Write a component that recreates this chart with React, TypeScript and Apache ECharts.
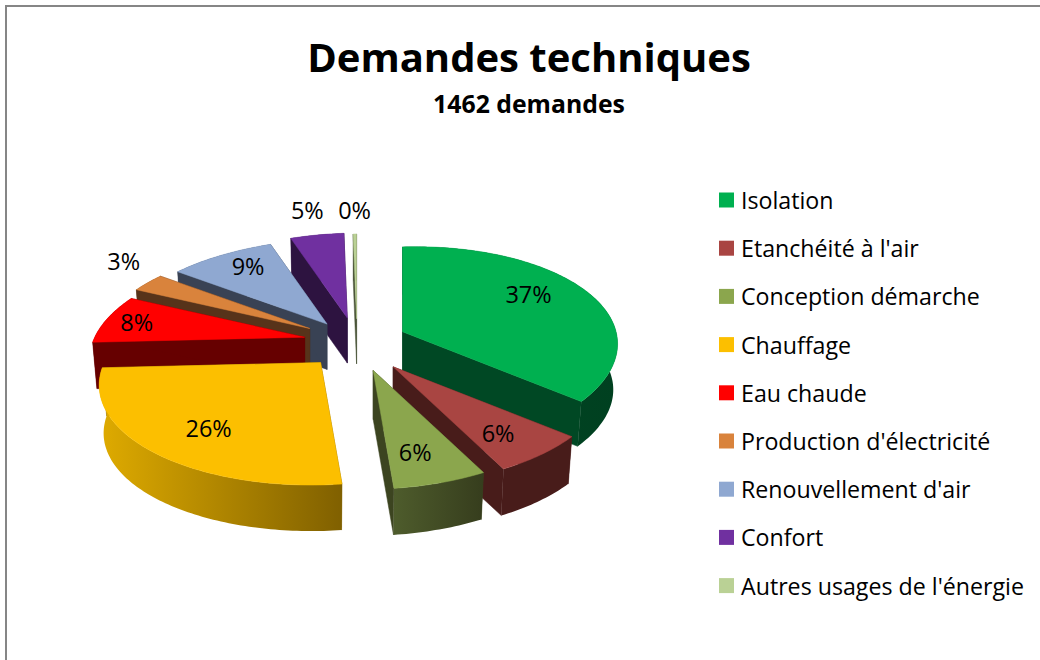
import React, { useEffect, useRef } from "react";
import * as echarts from "echarts";

const categories = [
  "Isolation",
  "Etanchéité à l'air",
  "Conception démarche",
  "Chauffage",
  "Eau chaude",
  "Production d'électricité",
  "Renouvellement d'air",
  "Confort",
  "Autres usages de l'énergie",
];
const shares = [36.5, 6.2, 6.0, 26.3, 7.8, 3.0, 9.2, 4.7, 0.3];
const explosions = [0.269, 0.252, 0.25, 0.2, 0.25, 0.25, 0.25, 0.25, 0.25];
const sizeScale = [1, 1, 1, 1.03, 1, 1, 1, 1, 1];
const apexShiftX = [0, 2, 3, 1, 2, -2, 1, 2, 4];
const apexShiftY = [0, 2, 0, 4, 1, -1, 0, -3, -2];
const topColors = ["#00B050", "#A94542", "#8BA64D", "#FCBF00", "#FF0000", "#D9833C", "#8FA8D1", "#7030A0", "#BAD195"];
const wallColors = ["#004824", "#481C1A", "#3C4420", "#806000", "#660000", "#57331A", "#394254", "#2D1340", "#4A5438"];
const rimFrom = ["#004824", "#481C1A", "#4E5C2C", "#DFAB00", "#660000", "#57331A", "#394254", "#2D1340", "#4A5438"];
const rimTo = ["#004020", "#481C1A", "#363D1D", "#806000", "#660000", "#57331A", "#394254", "#2D1340", "#4A5438"];
const labelNudgeX = [126, 105, 42, -112, -168, -186, -79, -40, -2];
const labelNudgeY = [-38, 66, 82, 65, -15, -67, -58, -108, -109];
const drawOrder = [8, 7, 6, 5, 4, 3, 0, 1, 2];

const FONT = "'Open Sans', sans-serif";
const CX = 353, CY = 342, RX = 212, RY = 99, EX = 216, PERSP = 1 / 6, SKEW = 5, BOTTOM = 0.98;

const rad = (d: number) => (d * Math.PI) / 180;
const rimVec = (deg: number, f = 1): [number, number] => {
  const X = Math.sin(rad(deg));
  const Y = -Math.cos(rad(deg));
  const s = 1 / (1 - PERSP * Y);
  return [RX * X * s * f, (RY * Y * s - SKEW * X) * f];
};

function sliceElements(i: number, value: number) {
  const total = shares.reduce((a, b) => a + b, 0);
  const before = shares.slice(0, i).reduce((a, b) => a + b, 0);
  const a0 = (before / total) * 360;
  const a1 = a0 + (value / total) * 360;
  const mid = (a0 + a1) / 2;
  const Xm = Math.sin(rad(mid));
  const Ym = -Math.cos(rad(mid));
  const sm = 1 / (1 - PERSP * Ym);
  const e = explosions[i];
  const ax = CX + EX * e * Xm * sm + apexShiftX[i];
  const ay = CY + RY * e * Ym * sm + apexShiftY[i];
  const depth = 47 + 2 * Ym;
  const size = sizeScale[i];

  const top = (deg: number): number[] => {
    const v = rimVec(deg, size);
    return [ax + v[0], ay + v[1]];
  };
  const bot = (deg: number): number[] => {
    const v = rimVec(deg, size * BOTTOM);
    return [ax + v[0], ay + v[1] + depth];
  };
  const steps = Math.max(2, Math.ceil(a1 - a0));
  const arcAngles = Array.from({ length: steps + 1 }, (_, k) => a0 + ((a1 - a0) * k) / steps);
  const apexTop = [ax, ay];
  const apexBot = [ax, ay + depth];
  const wallStyle = { fill: wallColors[i], stroke: wallColors[i], lineWidth: 0.5 };

  return {
    type: "group",
    children: [
      { type: "polygon", shape: { points: [apexTop, top(a0), bot(a0), apexBot] }, style: wallStyle },
      { type: "polygon", shape: { points: [apexTop, top(a1), bot(a1), apexBot] }, style: wallStyle },
      {
        type: "polygon",
        shape: { points: [...arcAngles.map(top), ...arcAngles.slice().reverse().map(bot)] },
        style: {
          fill: new echarts.graphic.LinearGradient(0, 0, 1, 0, [
            { offset: 0, color: rimFrom[i] },
            { offset: 1, color: rimTo[i] },
          ]),
        },
      },
      {
        type: "polygon",
        shape: { points: [apexTop, ...arcAngles.map(top)] },
        style: { fill: topColors[i], stroke: topColors[i], lineWidth: 0.5 },
      },
      {
        type: "text",
        z2: 100,
        style: {
          text: `${Math.round(value)}%`,
          x: ax + labelNudgeX[i],
          y: ay + labelNudgeY[i],
          align: "center",
          verticalAlign: "middle",
          fontFamily: FONT,
          fontSize: 23.5,
          fill: "#000000",
        },
      },
    ],
  };
}

export default function App() {
  const ref = useRef<HTMLDivElement>(null);
  useEffect(() => {
    if (!ref.current) return;
    const chart = echarts.init(ref.current, null, { renderer: "svg" });
    chart.setOption({
      animation: false,
      backgroundColor: "#ffffff",
      title: [
        {
          text: "Demandes techniques",
          left: 524,
          top: 31,
          textAlign: "center",
          textStyle: { fontFamily: FONT, fontSize: 40, fontWeight: "bold", color: "#000000" },
        },
        {
          text: "1462 demandes",
          left: 524,
          top: 85,
          textAlign: "center",
          textStyle: { fontFamily: FONT, fontSize: 24.8, fontWeight: "bold", color: "#000000" },
        },
      ],
      legend: {
        orient: "vertical",
        left: 714,
        top: 182,
        icon: "rect",
        itemWidth: 15,
        itemHeight: 15,
        itemGap: 22.2,
        selectedMode: false,
        data: categories,
        textStyle: { fontFamily: FONT, fontSize: 23.2, color: "#000000", padding: [0, 0, 0, 2], lineHeight: 26 },
      },
      graphic: [
        {
          type: "polyline",
          shape: { points: [[6, 660], [6, 6], [1040, 6]] },
          style: { stroke: "#868686", lineWidth: 2, fill: "none" },
          silent: true,
        },
      ],
      series: drawOrder.map((i) => ({
        type: "custom",
        name: categories[i],
        coordinateSystem: "none",
        itemStyle: { color: topColors[i] },
        data: [shares[i]],
        renderItem: (_p: unknown, api: any) => sliceElements(i, api.value(0)),
      })),
    });
    return () => chart.dispose();
  }, []);
  return <div ref={ref} style={{ position: "absolute", left: 0, top: 0, width: 1040, height: 660 }} />;
}
